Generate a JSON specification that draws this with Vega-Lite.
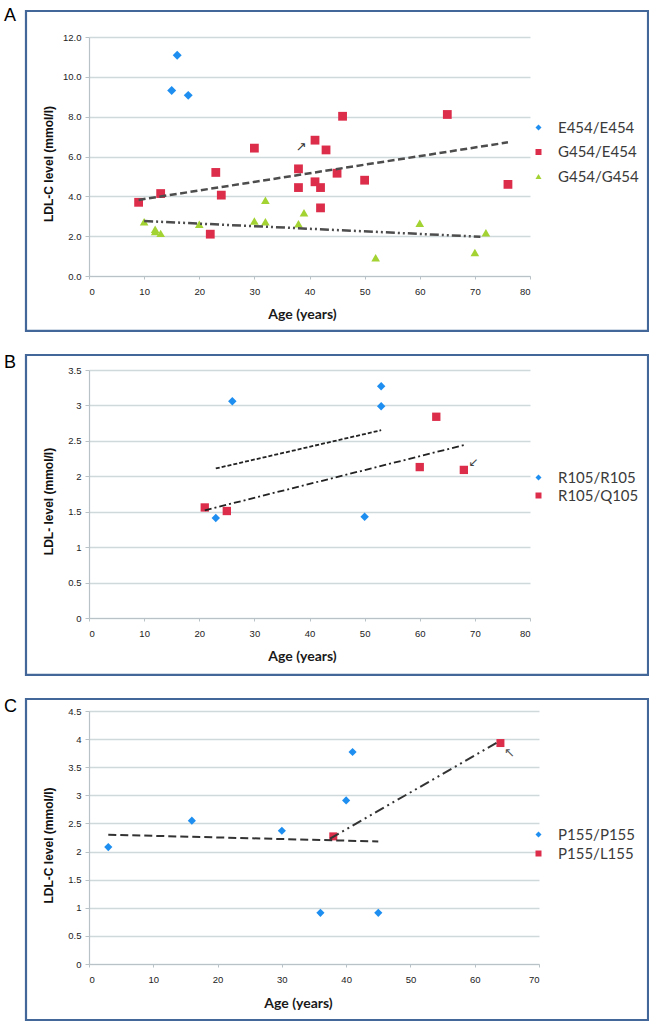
{
  "$schema": "https://vega.github.io/schema/vega-lite/v6.json",
  "padding": {"left": 3, "top": 7, "right": 0, "bottom": 0},
  "spacing": 20,
  "config": {
    "view": {"stroke": null},
    "font": "Liberation Sans",
    "axis": {"labelFont": "Liberation Sans", "labelFontSize": 9.5, "labelColor": "#222222", "domainColor": "#B9C3C7", "tickColor": "#B9C3C7", "gridColor": "#CFD9DC", "gridWidth": 1.5, "domainWidth": 1.2, "labelOverlap": false, "tickCount": 30},
    "axisY": {"tickSize": 4, "labelPadding": 4, "titleFont": "Liberation Sans", "titleFontSize": 12, "titleFontWeight": "bold", "titleColor": "#111111", "titleBaseline": "middle", "titleX": -41},
    "axisX": {"tickSize": 3, "labelPadding": 7, "titleFont": "Lato", "titleFontSize": 14, "titleFontWeight": "bold", "titleColor": "#1a1a1a", "titleBaseline": "middle", "grid": false},
    "legend": {"title": null, "orient": "none", "padding": 0, "labelFont": "Lato", "labelFontSize": 15, "labelColor": "#3a3a3a", "symbolSize": 36, "labelOffset": 12, "legendX": 442}
  },
  "datasets": {
    "one": [{"f": 1}],
    "ptsA": [
      {"age": 16, "ldl": 11.08, "g": "E454/E454"},
      {"age": 15, "ldl": 9.31, "g": "E454/E454"},
      {"age": 18, "ldl": 9.07, "g": "E454/E454"},
      {"age": 9, "ldl": 3.7, "g": "G454/E454"},
      {"age": 13, "ldl": 4.14, "g": "G454/E454"},
      {"age": 22, "ldl": 2.1, "g": "G454/E454"},
      {"age": 23, "ldl": 5.2, "g": "G454/E454"},
      {"age": 24, "ldl": 4.06, "g": "G454/E454"},
      {"age": 30, "ldl": 6.42, "g": "G454/E454"},
      {"age": 38, "ldl": 5.38, "g": "G454/E454"},
      {"age": 38, "ldl": 4.44, "g": "G454/E454"},
      {"age": 41, "ldl": 6.82, "g": "G454/E454"},
      {"age": 41, "ldl": 4.73, "g": "G454/E454"},
      {"age": 42, "ldl": 4.44, "g": "G454/E454"},
      {"age": 42, "ldl": 3.42, "g": "G454/E454"},
      {"age": 43, "ldl": 6.33, "g": "G454/E454"},
      {"age": 45, "ldl": 5.16, "g": "G454/E454"},
      {"age": 46, "ldl": 8.02, "g": "G454/E454"},
      {"age": 50, "ldl": 4.81, "g": "G454/E454"},
      {"age": 65, "ldl": 8.11, "g": "G454/E454"},
      {"age": 76, "ldl": 4.6, "g": "G454/E454"},
      {"age": 10, "ldl": 2.72, "g": "G454/G454"},
      {"age": 12, "ldl": 2.35, "g": "G454/G454"},
      {"age": 12, "ldl": 2.24, "g": "G454/G454"},
      {"age": 13, "ldl": 2.14, "g": "G454/G454"},
      {"age": 20, "ldl": 2.6, "g": "G454/G454"},
      {"age": 30, "ldl": 2.76, "g": "G454/G454"},
      {"age": 32, "ldl": 2.72, "g": "G454/G454"},
      {"age": 32, "ldl": 3.8, "g": "G454/G454"},
      {"age": 38, "ldl": 2.62, "g": "G454/G454"},
      {"age": 39, "ldl": 3.17, "g": "G454/G454"},
      {"age": 52, "ldl": 0.92, "g": "G454/G454"},
      {"age": 60, "ldl": 2.65, "g": "G454/G454"},
      {"age": 70, "ldl": 1.18, "g": "G454/G454"},
      {"age": 72, "ldl": 2.17, "g": "G454/G454"}
    ],
    "lnA": [
      {"age": 9, "ldl": 3.82, "s": "dash"},
      {"age": 76, "ldl": 6.71, "s": "dash"},
      {"age": 10, "ldl": 2.76, "s": "dashdot"},
      {"age": 71, "ldl": 1.97, "s": "dashdot"}
    ],
    "arA": [{"age": 38.5, "ldl": 6.49, "t": "↗"}],
    "ptsB": [
      {"age": 26, "ldl": 3.06, "g": "R105/R105"},
      {"age": 53, "ldl": 3.27, "g": "R105/R105"},
      {"age": 53, "ldl": 2.99, "g": "R105/R105"},
      {"age": 23, "ldl": 1.41, "g": "R105/R105"},
      {"age": 50, "ldl": 1.43, "g": "R105/R105"},
      {"age": 21, "ldl": 1.56, "g": "R105/Q105"},
      {"age": 25, "ldl": 1.51, "g": "R105/Q105"},
      {"age": 60, "ldl": 2.13, "g": "R105/Q105"},
      {"age": 63, "ldl": 2.84, "g": "R105/Q105"},
      {"age": 68, "ldl": 2.09, "g": "R105/Q105"}
    ],
    "lnB": [
      {"age": 23, "ldl": 2.11, "s": "dash"},
      {"age": 53, "ldl": 2.65, "s": "dash"},
      {"age": 21, "ldl": 1.52, "s": "dashdot"},
      {"age": 68, "ldl": 2.44, "s": "dashdot"}
    ],
    "arB": [{"age": 69.7, "ldl": 2.2, "t": "↙"}],
    "ptsC": [
      {"age": 3, "ldl": 2.08, "g": "P155/P155"},
      {"age": 16, "ldl": 2.55, "g": "P155/P155"},
      {"age": 30, "ldl": 2.37, "g": "P155/P155"},
      {"age": 36, "ldl": 0.91, "g": "P155/P155"},
      {"age": 40, "ldl": 2.91, "g": "P155/P155"},
      {"age": 41, "ldl": 3.77, "g": "P155/P155"},
      {"age": 45, "ldl": 0.91, "g": "P155/P155"},
      {"age": 38, "ldl": 2.27, "g": "P155/L155"},
      {"age": 64, "ldl": 3.93, "g": "P155/L155"}
    ],
    "lnC": [
      {"age": 3, "ldl": 2.3, "s": "dash"},
      {"age": 45, "ldl": 2.18, "s": "dash"},
      {"age": 37.5, "ldl": 2.23, "s": "dashdot"},
      {"age": 63.8, "ldl": 3.96, "s": "dashdot"}
    ],
    "arC": [{"age": 65.4, "ldl": 3.76, "t": "↖"}]
  },
  "resolve": {
    "scale": {"x": "independent", "y": "independent", "color": "independent", "shape": "independent", "strokeDash": "independent"},
    "legend": {"color": "independent", "shape": "independent"}
  },
  "vconcat": [
    {
      "width": 441, "height": 239,
      "layer": [
        {
          "data": {"name": "ptsA"},
          "mark": {"type": "point", "filled": true, "opacity": 1, "size": 64},
          "encoding": {
            "x": {"field": "age", "type": "quantitative", "scale": {"domain": [0, 80], "nice": false},
                  "axis": {"title": "Age (years)", "values": [0, 10, 20, 30, 40, 50, 60, 70, 80], "titleX": 213, "titleY": 38}},
            "y": {"field": "ldl", "type": "quantitative", "scale": {"domain": [0, 12], "nice": false},
                  "axis": {"title": "LDL-C level (mmol/l)", "values": [0, 2, 4, 6, 8, 10, 12], "format": ".1f", "grid": true, "titleY": 126.5}},
            "color": {"field": "g", "type": "nominal", "scale": {"domain": ["E454/E454", "G454/E454", "G454/G454"], "range": ["#1E8FF0", "#DC2D4B", "#A3D233"]},
                      "legend": {"legendY": 83, "rowPadding": 8.5}},
            "shape": {"field": "g", "type": "nominal", "scale": {"domain": ["E454/E454", "G454/E454", "G454/G454"], "range": ["diamond", "square", "triangle-up"]},
                      "legend": {"legendY": 83, "rowPadding": 8.5}},
            "size": {"field": "g", "type": "nominal", "scale": {"domain": ["E454/E454", "G454/E454", "G454/G454"], "range": [80, 64, 64]}, "legend": null}
          }
        },
        {
          "data": {"name": "one"},
          "mark": {"type": "rect", "fill": "white", "fillOpacity": 0, "stroke": "#44679A", "strokeWidth": 2.2},
          "encoding": {
            "x": {"datum": -11.43, "type": "quantitative", "scale": {"domain": [0, 80], "nice": false}},
            "x2": {"datum": 101.41},
            "y": {"datum": -2.76, "type": "quantitative", "scale": {"domain": [0, 12], "nice": false}},
            "y2": {"datum": 13.305}
          }
        },
        {
          "data": {"name": "one"},
          "mark": {"type": "text", "text": "A", "font": "Liberation Sans", "fontSize": 18, "align": "left", "baseline": "top", "color": "#000000"},
          "encoding": {
            "x": {"datum": -15.42, "type": "quantitative", "scale": {"domain": [0, 80], "nice": false}},
            "y": {"datum": 13.506, "type": "quantitative", "scale": {"domain": [0, 12], "nice": false}}
          }
        },
        {
          "data": {"name": "lnA"},
          "mark": {"type": "line", "color": "#4d4d4d", "strokeWidth": 2.5},
          "encoding": {
            "x": {"field": "age", "type": "quantitative", "scale": {"domain": [0, 80], "nice": false}},
            "y": {"field": "ldl", "type": "quantitative", "scale": {"domain": [0, 12], "nice": false}},
            "strokeDash": {"field": "s", "type": "nominal", "scale": {"domain": ["dash", "dashdot"], "range": [[7, 3.5], [9, 3, 2, 3, 2, 3]]}, "legend": null}
          }
        },
        {
          "data": {"name": "arA"},
          "mark": {"type": "text", "font": "DejaVu Sans", "fontSize": 13, "color": "#333333"},
          "encoding": {
            "x": {"field": "age", "type": "quantitative", "scale": {"domain": [0, 80], "nice": false}},
            "y": {"field": "ldl", "type": "quantitative", "scale": {"domain": [0, 12], "nice": false}},
            "text": {"field": "t"}
          }
        }
      ]
    },
    {
      "width": 441, "height": 248,
      "layer": [
        {
          "data": {"name": "ptsB"},
          "mark": {"type": "point", "filled": true, "opacity": 1, "size": 64},
          "encoding": {
            "x": {"field": "age", "type": "quantitative", "scale": {"domain": [0, 80], "nice": false},
                  "axis": {"title": "Age (years)", "values": [0, 10, 20, 30, 40, 50, 60, 70, 80], "titleX": 213, "titleY": 38}},
            "y": {"field": "ldl", "type": "quantitative", "scale": {"domain": [0, 3.5], "nice": false},
                  "axis": {"title": "LDL- level (mmol/l)", "values": [0, 0.5, 1, 1.5, 2, 2.5, 3, 3.5], "format": "~g", "grid": true, "titleY": 131}},
            "color": {"field": "g", "type": "nominal", "scale": {"domain": ["R105/R105", "R105/Q105"], "range": ["#1E8FF0", "#DC2D4B"]},
                      "legend": {"legendY": 100, "rowPadding": 2}},
            "shape": {"field": "g", "type": "nominal", "scale": {"domain": ["R105/R105", "R105/Q105"], "range": ["diamond", "square"]},
                      "legend": {"legendY": 100, "rowPadding": 2}},
            "size": {"field": "g", "type": "nominal", "scale": {"domain": ["R105/R105", "R105/Q105"], "range": [80, 64]}, "legend": null}
          }
        },
        {
          "data": {"name": "one"},
          "mark": {"type": "rect", "fill": "white", "fillOpacity": 0, "stroke": "#44679A", "strokeWidth": 2.2},
          "encoding": {
            "x": {"datum": -11.43, "type": "quantitative", "scale": {"domain": [0, 80], "nice": false}},
            "x2": {"datum": 101.41},
            "y": {"datum": -0.804, "type": "quantitative", "scale": {"domain": [0, 3.5], "nice": false}},
            "y2": {"datum": 3.712}
          }
        },
        {
          "data": {"name": "one"},
          "mark": {"type": "text", "text": "B", "font": "Liberation Sans", "fontSize": 18, "align": "left", "baseline": "top", "color": "#000000"},
          "encoding": {
            "x": {"datum": -15.42, "type": "quantitative", "scale": {"domain": [0, 80], "nice": false}},
            "y": {"datum": 3.726, "type": "quantitative", "scale": {"domain": [0, 3.5], "nice": false}}
          }
        },
        {
          "data": {"name": "lnB"},
          "mark": {"type": "line", "color": "#222222", "strokeWidth": 1.8},
          "encoding": {
            "x": {"field": "age", "type": "quantitative", "scale": {"domain": [0, 80], "nice": false}},
            "y": {"field": "ldl", "type": "quantitative", "scale": {"domain": [0, 3.5], "nice": false}},
            "strokeDash": {"field": "s", "type": "nominal", "scale": {"domain": ["dash", "dashdot"], "range": [[4, 2], [7, 3, 2, 3]]}, "legend": null}
          }
        },
        {
          "data": {"name": "arB"},
          "mark": {"type": "text", "font": "DejaVu Sans", "fontSize": 12, "color": "#444444"},
          "encoding": {
            "x": {"field": "age", "type": "quantitative", "scale": {"domain": [0, 80], "nice": false}},
            "y": {"field": "ldl", "type": "quantitative", "scale": {"domain": [0, 3.5], "nice": false}},
            "text": {"field": "t"}
          }
        }
      ]
    },
    {
      "width": 450, "height": 253,
      "layer": [
        {
          "data": {"name": "ptsC"},
          "mark": {"type": "point", "filled": true, "opacity": 1, "size": 64},
          "encoding": {
            "x": {"field": "age", "type": "quantitative", "scale": {"domain": [0, 70], "nice": false},
                  "axis": {"title": "Age (years)", "values": [0, 10, 20, 30, 40, 50, 60, 70], "titleX": 209, "titleY": 39}},
            "y": {"field": "ldl", "type": "quantitative", "scale": {"domain": [0, 4.5], "nice": false},
                  "axis": {"title": "LDL-C level (mmol/l)", "values": [0, 0.5, 1, 1.5, 2, 2.5, 3, 3.5, 4, 4.5], "format": "~g", "grid": true, "titleY": 134}},
            "color": {"field": "g", "type": "nominal", "scale": {"domain": ["P155/P155", "P155/L155"], "range": ["#1E8FF0", "#DC2D4B"]},
                      "legend": {"legendY": 116, "rowPadding": 3}},
            "shape": {"field": "g", "type": "nominal", "scale": {"domain": ["P155/P155", "P155/L155"], "range": ["diamond", "square"]},
                      "legend": {"legendY": 116, "rowPadding": 3}},
            "size": {"field": "g", "type": "nominal", "scale": {"domain": ["P155/P155", "P155/L155"], "range": [80, 64]}, "legend": null}
          }
        },
        {
          "data": {"name": "one"},
          "mark": {"type": "rect", "fill": "white", "fillOpacity": 0, "stroke": "#44679A", "strokeWidth": 2.2},
          "encoding": {
            "x": {"datum": -9.8, "type": "quantitative", "scale": {"domain": [0, 70], "nice": false}},
            "x2": {"datum": 86.96},
            "y": {"datum": -0.996, "type": "quantitative", "scale": {"domain": [0, 4.5], "nice": false}},
            "y2": {"datum": 4.713}
          }
        },
        {
          "data": {"name": "one"},
          "mark": {"type": "text", "text": "C", "font": "Liberation Sans", "fontSize": 18, "align": "left", "baseline": "top", "color": "#000000"},
          "encoding": {
            "x": {"datum": -13.22, "type": "quantitative", "scale": {"domain": [0, 70], "nice": false}},
            "y": {"datum": 4.731, "type": "quantitative", "scale": {"domain": [0, 4.5], "nice": false}}
          }
        },
        {
          "data": {"name": "lnC"},
          "mark": {"type": "line", "color": "#333333", "strokeWidth": 2},
          "encoding": {
            "x": {"field": "age", "type": "quantitative", "scale": {"domain": [0, 70], "nice": false}},
            "y": {"field": "ldl", "type": "quantitative", "scale": {"domain": [0, 4.5], "nice": false}},
            "strokeDash": {"field": "s", "type": "nominal", "scale": {"domain": ["dash", "dashdot"], "range": [[8, 4], [10, 4, 2, 4, 2, 4]]}, "legend": null}
          }
        },
        {
          "data": {"name": "arC"},
          "mark": {"type": "text", "font": "DejaVu Sans", "fontSize": 13, "color": "#555555"},
          "encoding": {
            "x": {"field": "age", "type": "quantitative", "scale": {"domain": [0, 70], "nice": false}},
            "y": {"field": "ldl", "type": "quantitative", "scale": {"domain": [0, 4.5], "nice": false}},
            "text": {"field": "t"}
          }
        }
      ]
    }
  ]
}
